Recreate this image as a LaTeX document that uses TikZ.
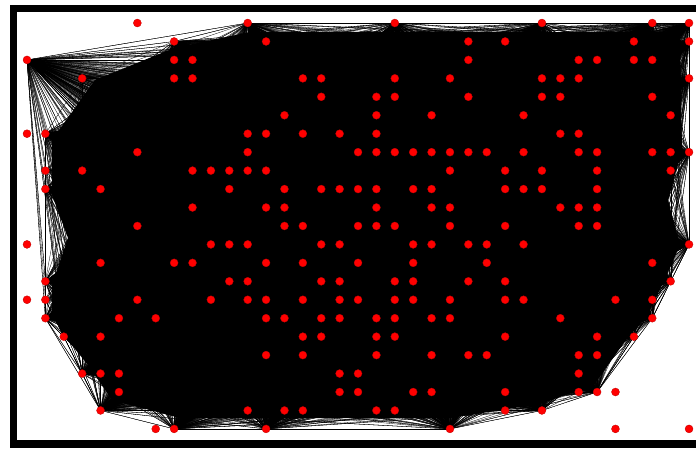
\documentclass[tikz,border=0pt]{standalone}
\pgfdeclarelayer{bg}
\pgfsetlayers{bg,main}
\begin{document}
\begin{tikzpicture}[x=1pt,y=-1pt,
  reddot/.style={circle,fill=red,draw=red!75!black,line width=0.3pt,minimum size=8pt,inner sep=0pt},
  edge/.style={line width=0.3pt,black}]
\useasboundingbox (0,0) rectangle (696,448);
\begin{pgfonlayer}{bg}
\fill[white] (0,0) rectangle (696,448);
\fill[black] (10,5) rectangle (696,448);
\fill[white] (17,12) rectangle (696,440);
\end{pgfonlayer}
\def\nodedata{0/{12,20,28,34,36},
1/{8,13,24,26,33,36},
2/{0,8,9,24,30,31,33,34},
3/{3,8,9,15,16,20,23,28,29,30,36},
4/{16,19,20,24,28,29,34},
5/{14,19,22,27,35},
6/{1,12,13,15,17,19,29,30},
7/{6,12,18,19,20,21,22,23,24,25,27,30,31,34,35,36},
8/{1,3,9,10,11,12,13,23,26,28,31,35},
9/{1,4,11,14,16,17,18,19,21,22,26,27,28,31},
10/{9,13,14,19,22,23,29,30,31},
11/{6,14,15,18,19,20,23,26,30,31},
12/{10,11,12,16,17,21,22,24,25,27,36},
13/{4,8,9,13,15,18,21,25,34},
14/{1,11,12,16,17,20,21,24,26,35},
15/{1,6,10,12,13,15,17,18,20,21,23,26,27,32,34},
16/{1,5,7,13,14,16,17,19,20,22,23,29,34},
17/{2,4,15,16,19,20,26,31,33},
18/{13,15,19,22,24,25,30,31},
19/{3,4,5,17,18,30},
20/{5,17,18,21,22,26,30,31},
21/{4,12,14,15,19,20,26,28},
22/{8,13,23}}
% connected nodes
\foreach \j/\row in \nodedata {
  \foreach \i in \row {
    \node[reddot] (n-\i-\j) at ({27+18.39*\i},{23+18.45*\j}) {};
  }
}
% isolated nodes
\foreach \i/\j in {6/0,0/6,0/12,0/15,7/22,32/20,32/22,36/22} {
  \node[reddot] (n-\i-\j) at ({27+18.39*\i},{23+18.45*\j}) {};
}
\begin{pgfonlayer}{bg}
\fill[black] (95,80) -- (174,48) -- (250,32) -- (680,32) -- (682,150) -- (668,200)
  -- (680,245) -- (664,281) -- (646,318) -- (628,337) -- (594,385) -- (540,404)
  -- (450,418) -- (270,418) -- (180,418) -- (112,400) -- (88,365) -- (62,333)
  -- (52,312) -- (52,285) -- (68,238) -- (52,195) -- (52,140) -- cycle;
\foreach \h in {0-2,12-0,20-0,28-0,34-0,36-0,36-1,36-3,36-7,36-12,35-14,34-16,33-17,31-20,28-21,23-22,13-22,8-22,4-21,3-19,2-17,1-16,1-6,1-9,1-14,8-1,35-8} {
  \foreach \j/\row in \nodedata {
    \foreach \i in \row {
      \draw[edge] (n-\h.center) -- (n-\i-\j.center);
    }
  }
}
\end{pgfonlayer}
\end{tikzpicture}
\end{document}
